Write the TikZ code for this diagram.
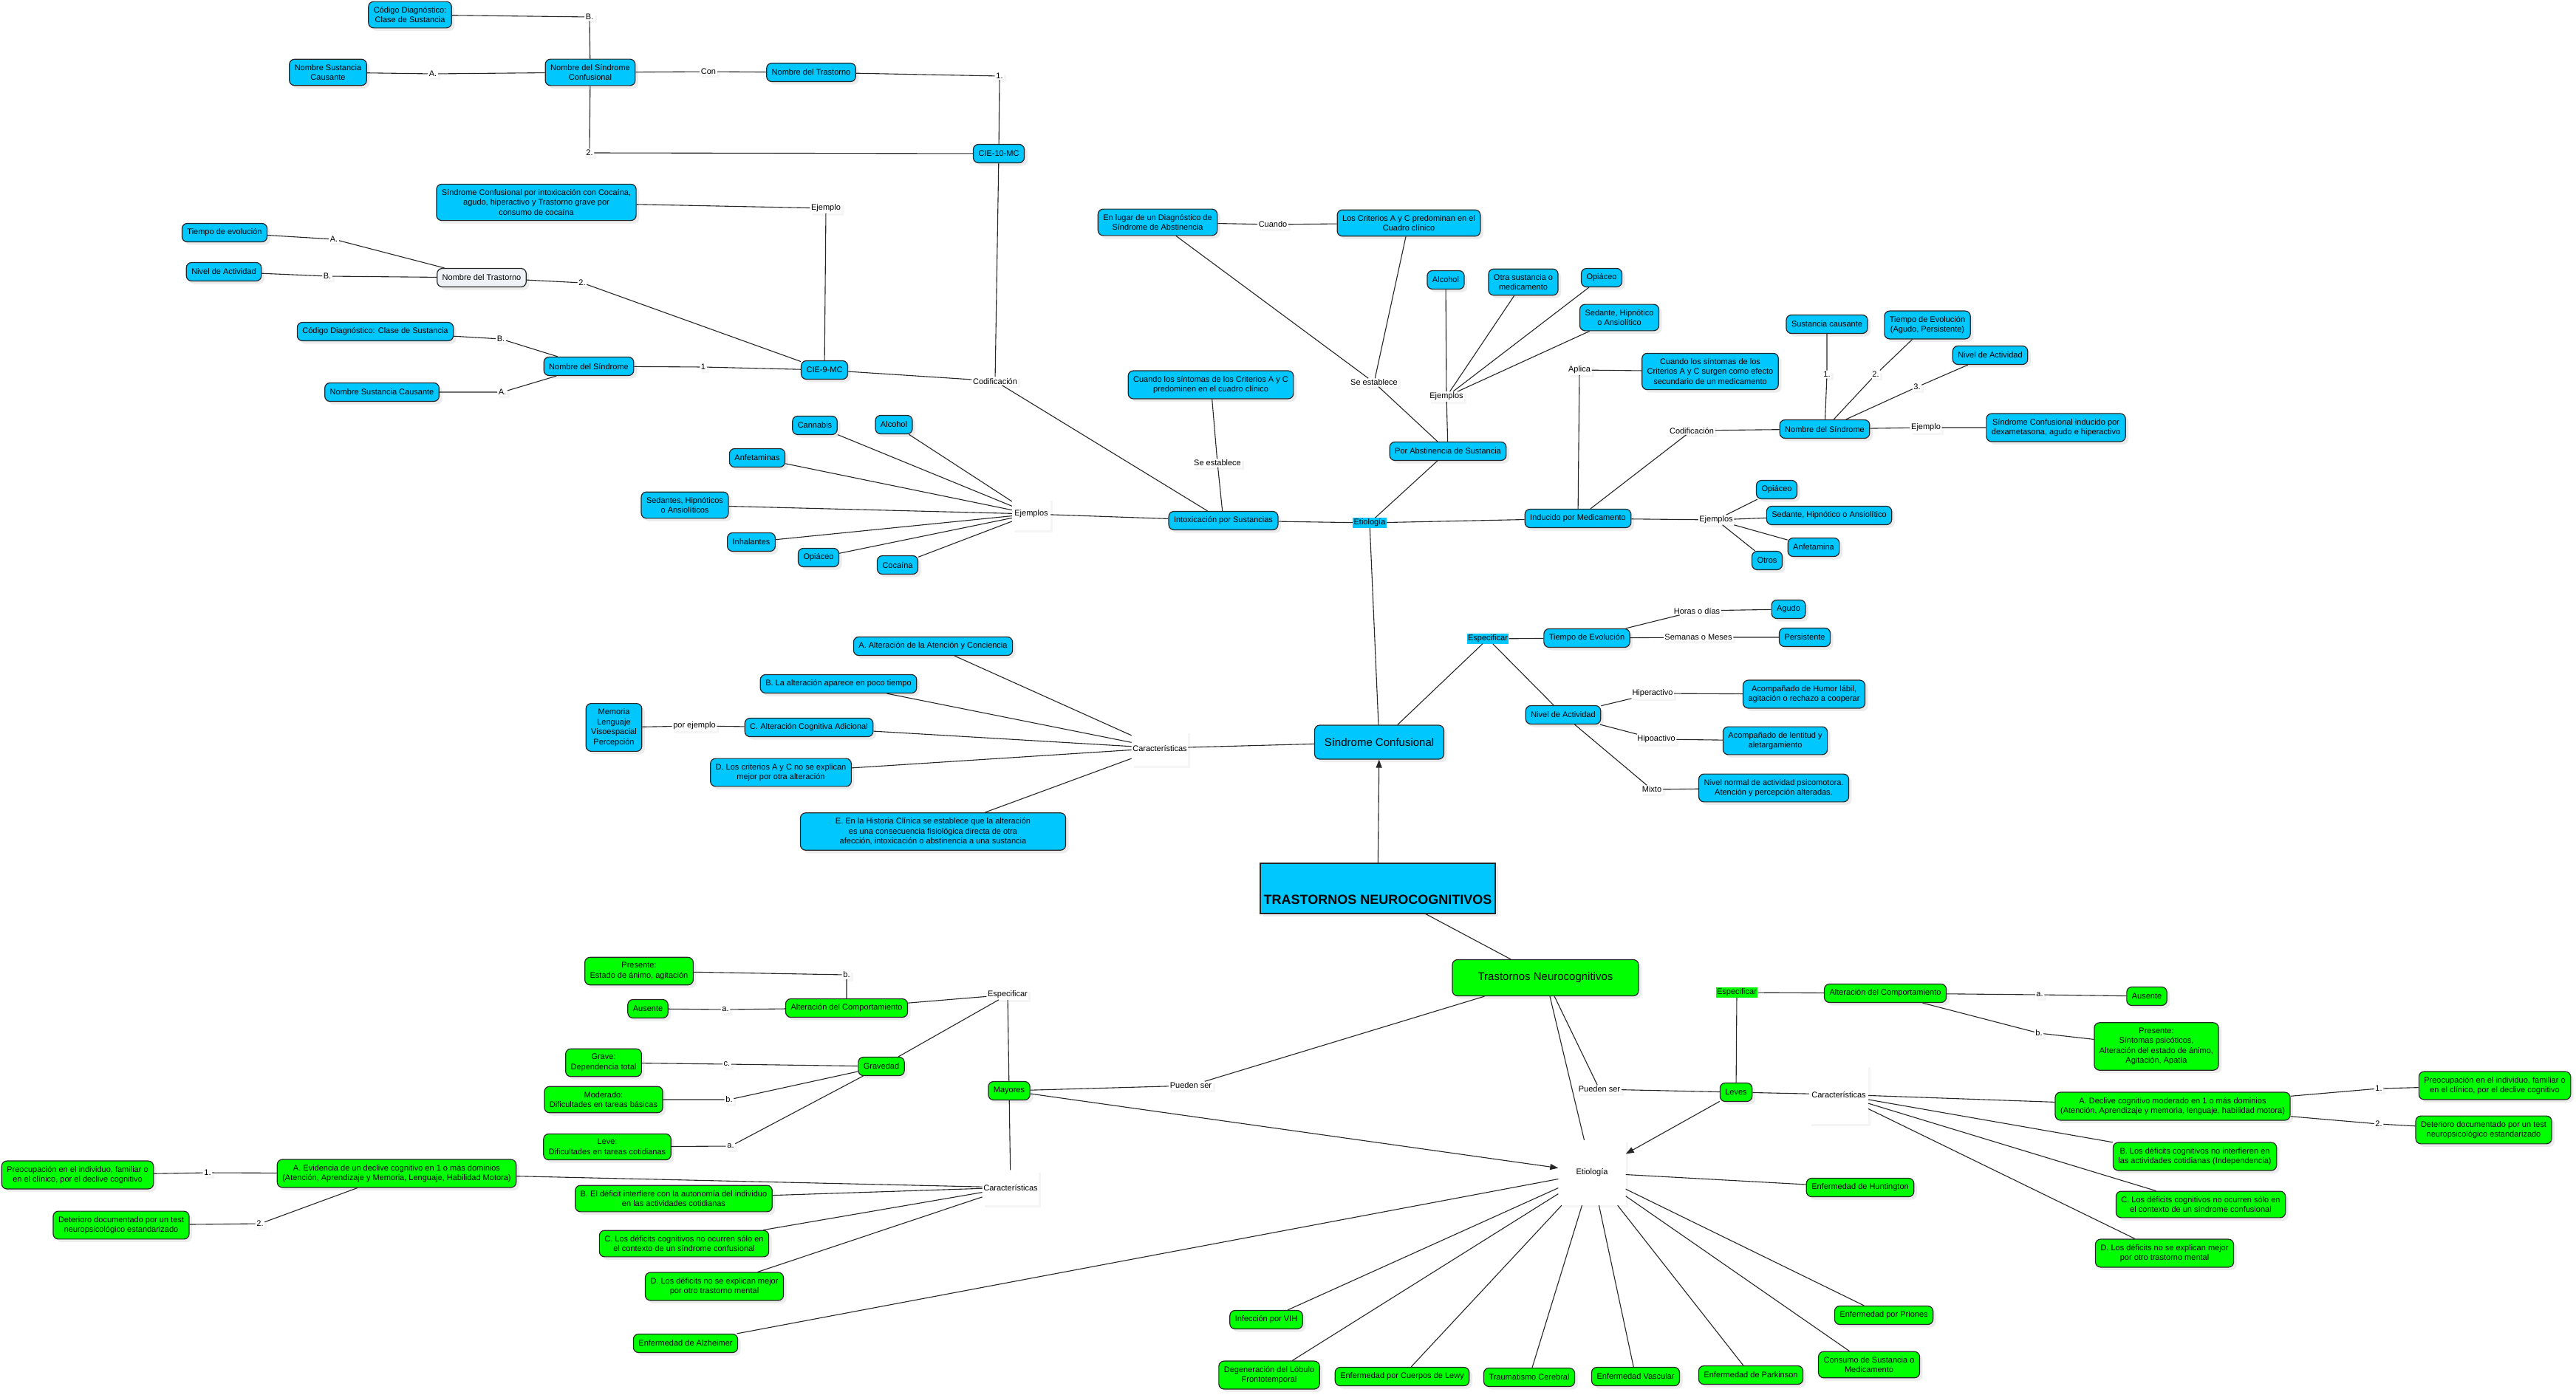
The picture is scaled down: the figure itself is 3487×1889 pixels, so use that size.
\documentclass[tikz,border=0pt]{standalone}
\usepackage{fontspec}
\setmainfont{Liberation Sans}
\usetikzlibrary{arrows.meta,shadows}
\definecolor{celeste}{RGB}{0,200,255}
\definecolor{lima}{RGB}{0,255,0}
\definecolor{grisclaro}{RGB}{238,242,246}
\tikzset{
  caja/.style={draw=black!85, line width=1.2pt, rounded corners=7pt, fill=celeste,
    align=center, inner xsep=7pt, inner ysep=7pt, minimum height=25pt,
    font=\fontsize{11}{13.5}\selectfont,
    drop shadow={opacity=0.15, shadow xshift=4pt, shadow yshift=-4pt}},
  verde/.style={caja, fill=lima},
  enlace/.style={fill=white, inner sep=1.5pt, font=\fontsize{11}{13.5}\selectfont,
    drop shadow={opacity=0.08, shadow xshift=3pt, shadow yshift=-3pt}},
  resalte/.style={inner sep=1.5pt, font=\fontsize{11}{13.5}\selectfont},
  linea/.style={line width=1.1pt, draw=black!85},
  punta/.style={-{Triangle[length=11pt,width=8pt]}}
}
\begin{document}
\begin{tikzpicture}[x=1pt,y=-1pt]
    \fill[white] (0,0) rectangle (3487,1889);
    \useasboundingbox (0,0) rectangle (3487,1889);

    % CIE-10-MC
    \node[caja] (cod10) at (555,20) {Código Diagnóstico:\\Clase de Sustancia};
    \node[enlace] (labB10) at (798,23) {B.};
    \node[caja] (nsc10) at (444,98) {Nombre Sustancia\\Causante};
    \node[enlace] (labA10) at (586,100) {A.};
    \node[caja] (nsin10) at (799,98) {Nombre del Síndrome\\Confusional};
    \node[enlace] (labCon) at (959,97) {Con};
    \node[caja] (ntr10) at (1098,98) {Nombre del Trastorno};
    \node[enlace] (lab1a) at (1353,103) {1.};
    \node[caja] (cie10) at (1352,208) {CIE-10-MC};
    \node[enlace] (lab2a) at (798,207) {2.};

    % CIE-9-MC
    \node[caja] (ejsc) at (726,274) {Síndrome Confusional por intoxicación con Cocaína,\\agudo, hiperactivo y Trastorno grave por\\consumo de cocaína};
    \node[enlace] (labEj9) at (1118,282) {Ejemplo};
    \node[caja] (tev) at (304,315) {Tiempo de evolución};
    \node[enlace] (labA9b) at (452,324) {A.};
    \node[caja] (nac9) at (303,368) {Nivel de Actividad};
    \node[enlace] (labB9b) at (443,374) {B.};
    \node[caja, fill=grisclaro] (ntr9) at (652,376) {Nombre del Trastorno};
    \node[enlace] (lab2b) at (788,383) {2.};
    \node[caja] (cod9) at (508,449) {Código Diagnóstico: Clase de Sustancia};
    \node[enlace] (labB9) at (678,459) {B.};
    \node[caja] (nsin9) at (797,496) {Nombre del Síndrome};
    \node[enlace] (labA9) at (680,531) {A.};
    \node[caja] (nsc9) at (517,531) {Nombre Sustancia Causante};
    \node[enlace] (lab1b) at (952,497) {1};
    \node[caja] (cie9) at (1116,501) {CIE-9-MC};
    \node[enlace] (labCod1) at (1347,516) {Codificación};

    % intoxicacion
    \node[caja] (cann) at (1103,576) {Cannabis};
    \node[caja] (alc1) at (1210,575) {Alcohol};
    \node[caja] (anf1) at (1025,620) {Anfetaminas};
    \node[caja] (sed1) at (927,684) {Sedantes, Hipnóticos\\o Ansiolíticos};
    \node[caja] (inh) at (1017,734) {Inhalantes};
    \node[caja] (opi1) at (1108,755) {Opiáceo};
    \node[caja] (coc) at (1215,765) {Cocaína};
    \node[enlace, minimum width=52pt, minimum height=43pt] (labEjs1) at (1396,696) {Ejemplos};
    \node[caja] (cac) at (1639,521) {Cuando los síntomas de los Criterios A y C\\predominen en el cuadro clínico};
    \node[enlace] (labSe1) at (1648,627) {Se establece};
    \node[caja] (intox) at (1656,705) {Intoxicación por Sustancias};
    \node[resalte, fill=celeste] (labEtio) at (1854,708) {Etiología};

    % abstinencia
    \node[caja] (enl) at (1567,301) {En lugar de un Diagnóstico de\\Síndrome de Abstinencia};
    \node[enlace] (labCuando) at (1723,304) {Cuando};
    \node[caja] (lcac) at (1907,302) {Los Criterios A y C predominan en el\\Cuadro clínico};
    \node[enlace] (labSe2) at (1860,518) {Se establece};
    \node[caja] (alc2) at (1957,379) {Alcohol};
    \node[caja] (otra) at (2062,382) {Otra sustancia o\\medicamento};
    \node[caja] (opi2) at (2168,376) {Opiáceo};
    \node[caja] (sed2) at (2192,430) {Sedante, Hipnótico\\o Ansiolítico};
    \node[enlace] (labEjs2) at (1958,537) {Ejemplos};
    \node[caja] (pabs) at (1960,611) {Por Abstinencia de Sustancia};

    % medicamento
    \node[caja] (indm) at (2136,702) {Inducido por Medicamento};
    \node[enlace] (labAplica) at (2138,501) {Aplica};
    \node[caja] (cuse) at (2315,503) {Cuando los síntomas de los\\Criterios A y C surgen como efecto\\secundario de un medicamento};
    \node[enlace] (labCod2) at (2290,583) {Codificación};
    \node[caja] (nsin3) at (2470,581) {Nombre del Síndrome};
    \node[caja] (susc) at (2473,439) {Sustancia causante};
    \node[caja] (tevo) at (2609,440) {Tiempo de Evolución\\(Agudo, Persistente)};
    \node[caja] (niv3) at (2694,481) {Nivel de Actividad};
    \node[enlace] (lab1c) at (2473,507) {1.};
    \node[enlace] (lab2c) at (2539,507) {2.};
    \node[enlace] (lab3c) at (2595,524) {3.};
    \node[enlace] (labEjc) at (2607,579) {Ejemplo};
    \node[caja] (scid) at (2783,579) {Síndrome Confusional inducido por\\dexametasona, agudo e hiperactivo};
    \node[enlace] (labEjs3) at (2323,704) {Ejemplos};
    \node[caja] (opi3) at (2405,663) {Opiáceo};
    \node[caja] (sed3) at (2476,698) {Sedante, Hipnótico o Ansiolítico};
    \node[caja] (anf3) at (2455,741) {Anfetamina};
    \node[caja] (otros) at (2392,759) {Otros};

    % especificar
    \node[resalte, fill=celeste] (labEsp1) at (2014,865) {Especificar};
    \node[caja] (tev1) at (2148,864) {Tiempo de Evolución};
    \node[enlace] (labHoras) at (2297,827) {Horas o días};
    \node[caja] (agudo) at (2421,825) {Agudo};
    \node[enlace] (labSem) at (2299,863) {Semanas o Meses};
    \node[caja] (pers) at (2443,863) {Persistente};
    \node[caja] (niv1) at (2116,968) {Nivel de Actividad};
    \node[enlace] (labHiper) at (2237,939) {Hiperactivo};
    \node[caja] (acomp1) at (2442,940) {Acompañado de Humor lábil,\\agitación o rechazo a cooperar};
    \node[enlace] (labHipo) at (2242,1001) {Hipoactivo};
    \node[caja] (acomp2) at (2403,1003) {Acompañado de lentitud y\\aletargamiento};
    \node[enlace] (labMixto) at (2236,1069) {Mixto};
    \node[caja] (nnorm) at (2401,1067) {Nivel normal de actividad psicomotora.\\Atención y percepción alteradas.};

    % caracteristicas
    \node[caja] (cA) at (1263,875) {A. Alteración de la Atención y Conciencia};
    \node[caja] (cB) at (1135,926) {B. La alteración aparece en poco tiempo};
    \node[caja] (mem) at (831,985) {Memoria\\Lenguaje\\Visoespacial\\Percepción};
    \node[enlace] (labPorEj) at (940,983) {por ejemplo};
    \node[caja] (cC) at (1095,985) {C. Alteración Cognitiva Adicional};
    \node[caja] (cD) at (1057,1046) {D. Los criterios A y C no se explican\\mejor por otra alteración};
    \node[caja, minimum width=359pt] (cE) at (1263,1126) {E. En la Historia Clínica se establece que la alteración\\es una consecuencia fisiológica directa de otra\\afección, intoxicación o abstinencia a una sustancia};
    \node[enlace, minimum width=74pt, minimum height=47pt] (labCar1) at (1570,1013) {Características};
    \node[caja, minimum width=175pt, minimum height=46pt, font=\fontsize{15}{18}\selectfont] (sc) at (1867,1005) {Síndrome Confusional};

    % titulo
    \node[draw=black!85, line width=1.2pt, fill=celeste, minimum width=318pt, minimum height=68pt,
      drop shadow={opacity=0.15, shadow xshift=4pt, shadow yshift=-4pt}] (titulo) at (1865,1203) {};
    \node[font=\bfseries\fontsize{18}{20}\selectfont] (titulotexto) at ([yshift=-15pt]titulo.center) {TRASTORNOS NEUROCOGNITIVOS};
    \node[verde, minimum width=252pt, minimum height=49pt, font=\fontsize{15}{18}\selectfont] (tnc) at (2092,1324) {Trastornos Neurocognitivos};

    % mayores
    \node[verde] (pres1) at (865,1315) {Presente:\\Estado de ánimo, agitación};
    \node[enlace] (labb1) at (1146,1320) {b.};
    \node[verde] (aus1) at (877,1366) {Ausente};
    \node[enlace] (laba1) at (982,1367) {a.};
    \node[verde] (alt1) at (1146,1365) {Alteración del Comportamiento};
    \node[enlace] (labEsp2) at (1364,1347) {Especificar};
    \node[verde] (grave) at (817,1439) {Grave:\\Dependencia total};
    \node[enlace] (labc) at (984,1441) {c.};
    \node[verde] (grav) at (1193,1444) {Gravedad};
    \node[verde] (mod) at (817,1489) {Moderado:\\Dificultades en tareas básicas};
    \node[enlace] (labb2) at (987,1489) {b.};
    \node[verde] (leve) at (822,1553) {Leve:\\Dificultades en tareas cotidianas};
    \node[enlace] (laba2) at (989,1552) {a.};
    \node[verde] (may) at (1366,1477) {Mayores};
    \node[enlace] (labPS1) at (1612,1470) {Pueden ser};
    \node[enlace, minimum width=76pt, minimum height=47pt] (labCar2) at (1368,1608) {Características};
    \node[verde] (preoc1) at (105,1591) {Preocupación en el individuo, familiar o\\en el clínico, por el declive cognitivo};
    \node[enlace] (lab1e) at (281,1588) {1.};
    \node[verde] (mA) at (537,1589) {A. Evidencia de un declive cognitivo en 1 o más dominios\\(Atención, Aprendizaje y Memoria, Lenguaje, Habilidad Motora)};
    \node[enlace] (lab2e) at (352,1657) {2.};
    \node[verde] (det1) at (164,1659) {Deterioro documentado por un test\\neuropsicológico estandarizado};
    \node[verde] (mB) at (912,1623) {B. El déficit interfiere con la autonomía del individuo\\en las actividades cotidianas};
    \node[verde] (mC) at (926,1684) {C. Los déficits cognitivos no ocurren sólo en\\el contexto de un síndrome confusional};
    \node[verde] (mD) at (967,1742) {D. Los déficits no se explican mejor\\por otro trastorno mental};
    \node[verde] (alz) at (928,1819) {Enfermedad de Alzheimer};

    % leves
    \node[enlace] (labPS2) at (2165,1475) {Pueden ser};
    \node[verde] (leves) at (2350,1479) {Leves};
    \node[resalte, fill=lima] (labEsp3) at (2351,1344) {Especificar};
    \node[verde] (alt2) at (2552,1345) {Alteración del Comportamiento};
    \node[enlace] (laba3) at (2761,1347) {a.};
    \node[verde] (aus2) at (2906,1349) {Ausente};
    \node[enlace] (labb3) at (2760,1399) {b.};
    \node[verde] (pres2) at (2919,1417) {Presente:\\Síntomas psicóticos,\\Alteración del estado de ánimo,\\Agitación, Apatía};
    \node[enlace, minimum width=80pt, minimum height=80pt] (labCar3) at (2489,1482) {Características};
    \node[verde] (lA) at (2941,1498) {A. Declive cognitivo moderado en 1 o más dominios\\(Atención, Aprendizaje y memoria, lenguaje, habilidad motora)};
    \node[enlace] (lab1d) at (3220,1474) {1.};
    \node[verde] (preoc2) at (3377,1470) {Preocupación en el individuo, familiar o\\en el clínico, por el declive cognitivo};
    \node[enlace] (lab2d) at (3220,1522) {2.};
    \node[verde] (det2) at (3362,1530) {Deterioro documentado por un test\\neuropsicológico estandarizado};
    \node[verde] (lB) at (2971,1566) {B. Los déficits cognitivos no interfieren en\\las actividades cotidianas (Independencia)};
    \node[verde] (lC) at (2979,1631) {C. Los déficits cognitivos no ocurren sólo en\\el contexto de un síndrome confusional};
    \node[verde] (lD) at (2930,1697) {D. Los déficits no se explican mejor\\por otro trastorno mental};

    % etiologia
    \node[enlace, minimum width=91pt, minimum height=88pt] (etio) at (2155,1588) {Etiología};
    \node[verde] (hunt) at (2518,1608) {Enfermedad de Huntington};
    \node[verde] (vih) at (1714,1787) {Infección por VIH};
    \node[verde] (dlf) at (1718,1862) {Degeneración del Lóbulo\\Frontotemporal};
    \node[verde] (lewy) at (1898,1864) {Enfermedad por Cuerpos de Lewy};
    \node[verde] (trau) at (2070,1865) {Traumatismo Cerebral};
    \node[verde] (vasc) at (2214,1864) {Enfermedad Vascular};
    \node[verde] (park) at (2370,1862) {Enfermedad de Parkinson};
    \node[verde] (cons) at (2530,1848) {Consumo de Sustancia o\\Medicamento};
    \node[verde] (prion) at (2550,1781) {Enfermedad por Priones};

    % lineas arriba
    \draw[linea] (cod10) -- (labB10) -- (nsin10);
    \draw[linea] (nsc10) -- (labA10) -- (nsin10);
    \draw[linea] (nsin10) -- (labCon) -- (ntr10);
    \draw[linea] (ntr10) -- (lab1a) -- (cie10);
    \draw[linea] (nsin10) -- (lab2a) -- (cie10);
    \draw[linea] (cie10) -- (labCod1);
    \draw[linea] (ejsc) -- (labEj9) -- (cie9);
    \draw[linea] (tev) -- (labA9b) -- (ntr9);
    \draw[linea] (nac9) -- (labB9b) -- (ntr9);
    \draw[linea] (ntr9) -- (lab2b) -- (cie9);
    \draw[linea] (cod9) -- (labB9) -- (nsin9);
    \draw[linea] (nsc9) -- (labA9) -- (nsin9);
    \draw[linea] (nsin9) -- (lab1b) -- (cie9);
    \draw[linea] (cie9) -- (labCod1) -- (intox);
    \foreach \s in {cann,alc1,anf1,sed1,inh,opi1,coc}
      \draw[linea] (labEjs1) -- (\s);
    \draw[linea] (labEjs1) -- (intox);
    \draw[linea] (intox) -- (labSe1) -- (cac);
    \draw[linea] (intox) -- (labEtio) -- (indm);
    \draw[linea] (labEtio) -- (pabs);
    \draw[linea] (labEtio) -- (sc);
    \draw[linea] (pabs) -- (labSe2) -- (enl);
    \draw[linea] (labSe2) -- (lcac);
    \draw[linea] (enl) -- (labCuando) -- (lcac);
    \draw[linea] (pabs) -- (labEjs2);
    \foreach \s in {alc2,otra,opi2,sed2}
      \draw[linea] (labEjs2) -- (\s);
    \draw[linea] (indm) -- (labAplica) -- (cuse);
    \draw[linea] (indm) -- (labCod2) -- (nsin3);
    \draw[linea] (nsin3) -- (lab1c) -- (susc);
    \draw[linea] (nsin3) -- (lab2c) -- (tevo);
    \draw[linea] (nsin3) -- (lab3c) -- (niv3);
    \draw[linea] (nsin3) -- (labEjc) -- (scid);
    \draw[linea] (indm) -- (labEjs3);
    \foreach \s in {opi3,sed3,anf3,otros}
      \draw[linea] (labEjs3) -- (\s);
    \draw[linea] (sc) -- (labEsp1) -- (tev1);
    \draw[linea] (labEsp1) -- (niv1);
    \draw[linea] (tev1) -- (labHoras) -- (agudo);
    \draw[linea] (tev1) -- (labSem) -- (pers);
    \draw[linea] (niv1) -- (labHiper) -- (acomp1);
    \draw[linea] (niv1) -- (labHipo) -- (acomp2);
    \draw[linea] (niv1) -- (labMixto) -- (nnorm);
    \draw[linea] (sc) -- (labCar1);
    \foreach \s in {cA,cB,cC,cD,cE}
      \draw[linea] (labCar1) -- (\s);
    \draw[linea] (cC) -- (labPorEj) -- (mem);

    % lineas abajo
    \draw[linea, punta] (titulo) -- (sc);
    \draw[linea] (titulo) -- (tnc);
    \draw[linea] (tnc) -- (labPS1) -- (may);
    \draw[linea] (tnc) -- (labPS2) -- (leves);
    \draw[linea] (tnc) -- (etio);
    \draw[linea] (may) -- (labEsp2) -- (alt1);
    \draw[linea] (labEsp2) -- (grav);
    \draw[linea] (pres1) -- (labb1) -- (alt1);
    \draw[linea] (aus1) -- (laba1) -- (alt1);
    \draw[linea] (grave) -- (labc) -- (grav);
    \draw[linea] (mod) -- (labb2) -- (grav);
    \draw[linea] (leve) -- (laba2) -- (grav);
    \draw[linea] (may) -- (labCar2);
    \foreach \s in {mA,mB,mC,mD}
      \draw[linea] (labCar2) -- (\s);
    \draw[linea] (preoc1) -- (lab1e) -- (mA);
    \draw[linea] (det1) -- (lab2e) -- (mA);
    \draw[linea, punta] (may) -- (etio);
    \draw[linea] (leves) -- (labEsp3) -- (alt2);
    \draw[linea] (alt2) -- (laba3) -- (aus2);
    \draw[linea] (alt2) -- (labb3) -- (pres2);
    \draw[linea] (leves) -- (labCar3);
    \foreach \s in {lA,lB,lC,lD}
      \draw[linea] (labCar3) -- (\s);
    \draw[linea] (lA) -- (lab1d) -- (preoc2);
    \draw[linea] (lA) -- (lab2d) -- (det2);
    \draw[linea, punta] (leves) -- (etio);
    \foreach \s in {hunt,prion,cons,park,vasc,trau,lewy,dlf,vih,alz}
      \draw[linea] (etio) -- (\s);
\end{tikzpicture}
\end{document}
